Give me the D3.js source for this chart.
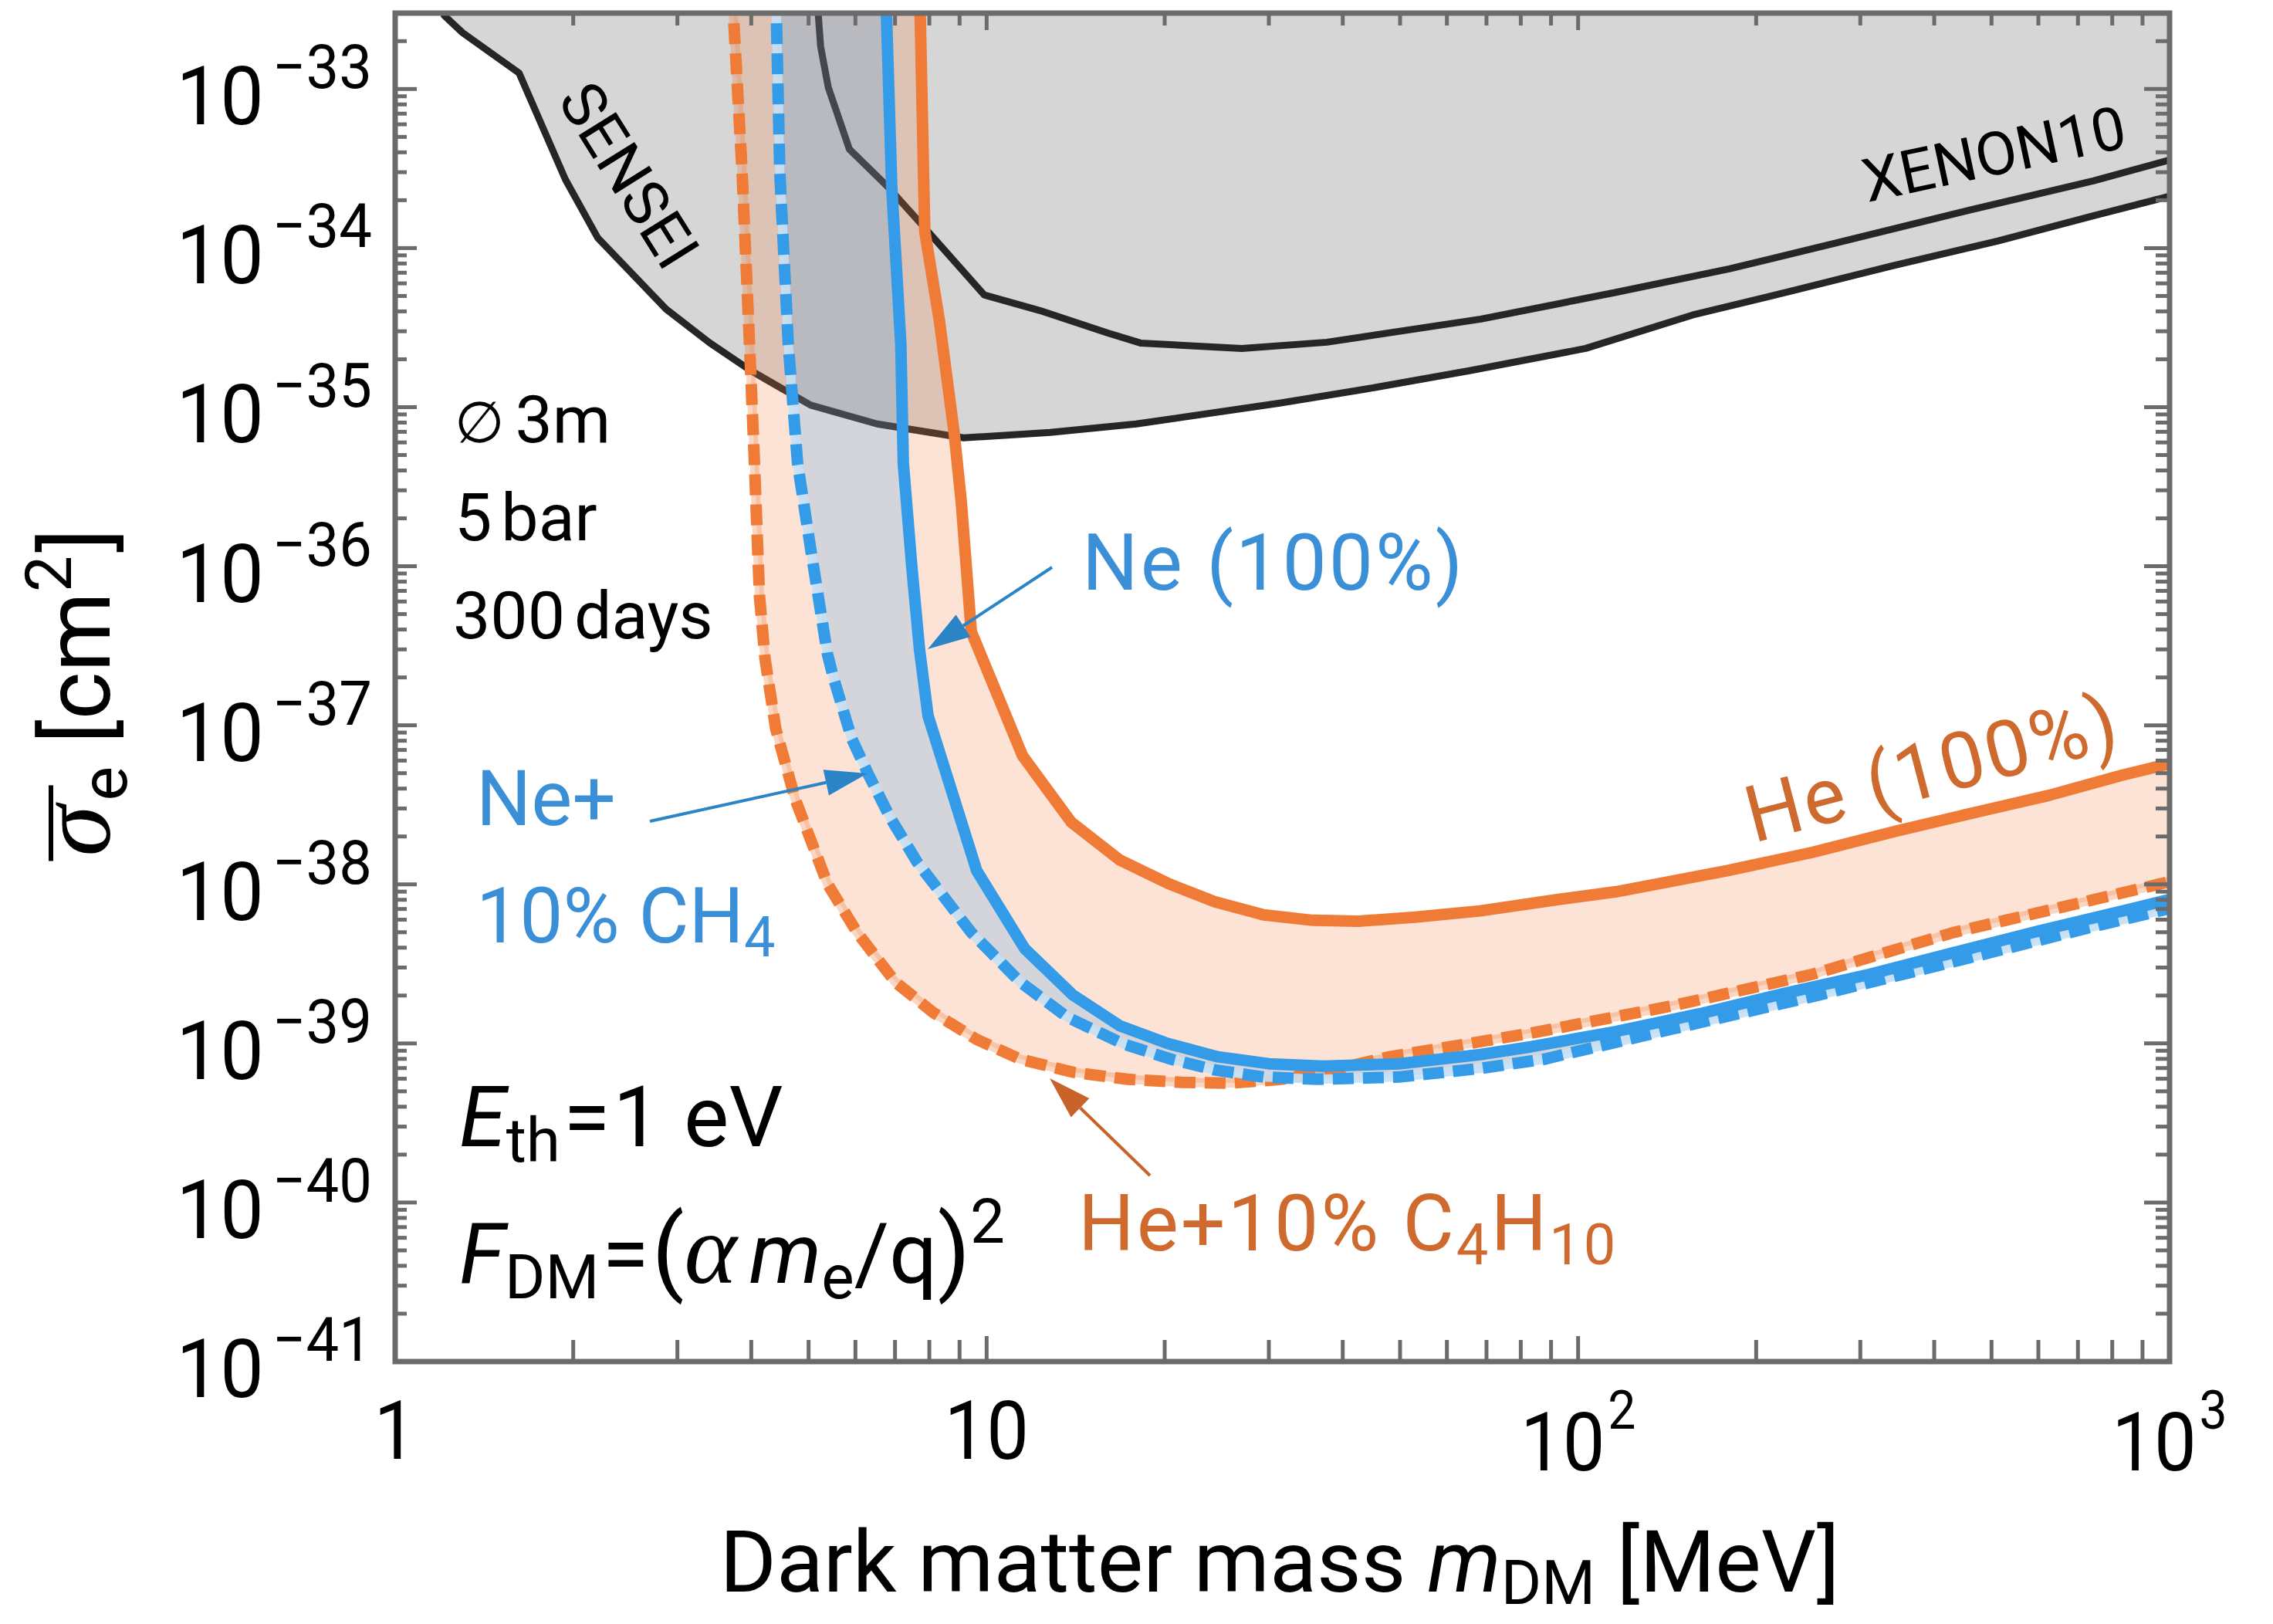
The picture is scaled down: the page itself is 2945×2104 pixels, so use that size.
<!DOCTYPE html>
<html>
<head>
<meta charset="utf-8">
<script src="https://cdn.jsdelivr.net/npm/d3@7"></script>
<style>
html, body { margin: 0; padding: 0; background: #fff; }
svg { display: block; font-family: Roboto, "Open Sans", sans-serif; }
</style>
</head>
<body>
<svg id="chart" width="2945" height="2104"></svg>
<script>
// [mass MeV, sigma_e cm^2]
const senseiLimit = [
	[1.2, 4e-33], [1.21, 2.9e-33], [1.3, 2.26e-33], [1.62, 1.26e-33], [1.94, 2.7e-34], [2.2, 1.16e-34],
	[2.87, 4.14e-35], [3.4, 2.54e-35], [3.99, 1.7e-35], [4.52, 1.3e-35], [5.04, 1.03e-35], [6.53, 7.84e-36],
	[9.14, 6.41e-36], [12.8, 6.93e-36], [17.9, 7.84e-36], [31.3, 1.06e-35], [43.8, 1.3e-35], [65.8, 1.7e-35],
	[103, 2.34e-35], [156, 3.79e-35], [234, 5.47e-35], [340, 7.74e-35], [513, 1.11e-34], [745, 1.6e-34], [1000, 2.12e-34],
];
const xenon10Limit = [
	[5.17, 4e-33], [5.19, 3e-33], [5.24, 1.85e-33], [5.4, 1.02e-33], [5.86, 4.19e-34], [6.79, 2.45e-34],
	[7.86, 1.34e-34], [9.91, 5.07e-35], [12.3, 4.05e-35], [16, 2.93e-35], [18.2, 2.53e-35], [27, 2.34e-35],
	[37.6, 2.56e-35], [68.5, 3.58e-35], [115, 5.24e-35], [180, 7.4e-35], [282, 1.11e-34], [458, 1.73e-34],
	[745, 2.65e-34], [1000, 3.58e-34],
];
const heliumPure = [
	[7.7, 4e-33], [7.72, 3e-33], [7.86, 1.27e-34], [8.32, 3.5e-35], [8.81, 6.93e-36], [9.06, 2.54e-36],
	[9.42, 3.88e-37], [11.5, 6.43e-38], [13.9, 2.46e-38], [16.8, 1.42e-38], [20.3, 1.01e-38], [24.3, 7.78e-39],
	[29.4, 6.43e-39], [35.6, 5.94e-39], [42.5, 5.87e-39], [53, 6.22e-39], [68.3, 6.81e-39], [92.7, 8.04e-39],
	[116, 8.99e-39], [179, 1.22e-38], [249, 1.59e-38], [346, 2.17e-38], [482, 2.9e-38], [626, 3.63e-38],
	[832, 4.86e-38], [1000, 5.74e-38],
];
const heliumMix = [
	[3.71, 4e-33], [3.73, 3e-33], [3.86, 2.99e-34], [3.99, 1.7e-35], [4.05, 4.43e-36], [4.13, 6.49e-37],
	[4.22, 2.62e-37], [4.4, 9.51e-38], [4.75, 3.4e-38], [5.38, 1.01e-38], [6.04, 4.98e-39], [7.01, 2.43e-39],
	[8.13, 1.56e-39], [9.62, 1.06e-39], [11.4, 7.96e-40], [14, 6.59e-40], [17.3, 5.95e-40], [21.4, 5.69e-40],
	[25.9, 5.63e-40], [31.5, 5.95e-40], [38.9, 6.89e-40], [48, 8.24e-40], [83.2, 1.16e-39], [144, 1.72e-39],
	[249, 2.72e-39], [431, 4.98e-39], [747, 8.04e-39], [1000, 1.04e-38],
];
const neonPure = [
	[6.75, 4e-33], [6.77, 3e-33], [6.91, 2.45e-34], [7.16, 2.48e-35], [7.23, 4.43e-36], [7.47, 1.01e-36],
	[7.7, 3e-37], [7.96, 1.15e-37], [9.62, 1.22e-38], [11.6, 3.94e-39], [14, 2.01e-39], [16.8, 1.29e-39],
	[20.3, 9.96e-40], [24.6, 8.24e-40], [30, 7.45e-40], [37.1, 7.2e-40], [49.8, 7.45e-40], [68.3, 8.51e-40],
	[83.2, 9.52e-40], [116, 1.19e-39], [161, 1.54e-39], [223, 2.06e-39], [311, 2.72e-39], [431, 3.72e-39],
	[600, 5.09e-39], [832, 6.8e-39], [1000, 8.04e-39],
];
const neonMix = [
	[4.39, 4e-33], [4.41, 3e-33], [4.47, 2.99e-34], [4.62, 2.48e-35], [4.79, 4.43e-36], [5.05, 1.23e-36],
	[5.38, 2.81e-37], [5.5, 2.03e-37], [5.91, 8.3e-38], [6.3, 4.97e-38], [6.87, 2.63e-38], [7.63, 1.38e-38],
	[9.42, 4.98e-39], [11.4, 2.43e-39], [13.7, 1.46e-39], [17, 9.96e-40], [20.5, 7.96e-40], [24.3, 6.81e-40],
	[29.4, 6.15e-40], [36.3, 5.95e-40], [49.8, 6.15e-40], [68.3, 6.96e-40], [87.6, 7.96e-40], [144, 1.23e-39],
	[249, 1.97e-39], [431, 3.26e-39], [747, 5.45e-39], [1000, 7.05e-39],
];

const xMajorTicks = [1, 10, 100, 1000];
const xTickLabels = [["1", ""], ["10", ""], ["10", "2"], ["10", "3"]];
const yExponents = [-41, -40, -39, -38, -37, -36, -35, -34, -33];

const plot = { left: 512, right: 2811, top: 17, bottom: 1764 };
const colors = {
	frame: "#6b6b6b",
	exclusion: "#d6d6d6",
	limitLine: "#262626",
	orange: "#ef7b36",
	orangeText: "#cf6a2e",
	orangeArrow: "#c8642a",
	blue: "#339be8",
	blueText: "#3a8fd6",
	blueArrow: "#2b84c6",
};

const svg = d3.select("#chart");
const x = d3.scaleLog().domain([1, 1000]).range([plot.left, plot.right]);
const y = d3.scaleLog().domain([1e-41, 3e-33]).range([plot.bottom, plot.top]);
const line = d3.line().x((d) => x(d[0])).y((d) => y(d[1]));
const areaAbove = d3.area().x((d) => x(d[0])).y0(plot.top - 60).y1((d) => y(d[1]));

function bandPath(lower, upper) {
	return line(lower.concat(upper.slice().reverse())) + "Z";
}

const defs = svg.append("defs");
defs.append("clipPath").attr("id", "plotClip")
	.append("rect").attr("x", plot.left).attr("y", plot.top)
	.attr("width", plot.right - plot.left).attr("height", plot.bottom - plot.top);
const mask = defs.append("mask").attr("id", "noNeon").attr("maskUnits", "userSpaceOnUse")
	.attr("x", 0).attr("y", 0).attr("width", 2945).attr("height", 2104);
mask.append("rect").attr("width", 2945).attr("height", 2104).attr("fill", "#fff");
mask.append("path").attr("d", bandPath(neonMix, neonPure)).attr("fill", "#000");

const g = svg.append("g").attr("clip-path", "url(#plotClip)");

// excluded regions
for (const limit of [senseiLimit, xenon10Limit]) {
	g.append("path").attr("d", areaAbove(limit)).attr("fill", colors.exclusion);
}
for (const limit of [senseiLimit, xenon10Limit]) {
	g.append("path").attr("d", line(limit)).attr("fill", "none")
		.attr("stroke", colors.limitLine).attr("stroke-width", 9).attr("stroke-linejoin", "round");
}

// projected bands
g.append("path").attr("d", bandPath(heliumMix, heliumPure))
	.attr("fill", "rgb(241,127,68)").attr("fill-opacity", 0.22).attr("mask", "url(#noNeon)");
g.append("path").attr("d", bandPath(neonMix, neonPure))
	.attr("fill", "rgb(126,132,150)").attr("fill-opacity", 0.34);

function dashedCurve(data, color, underColor) {
	g.append("path").attr("d", line(data)).attr("fill", "none")
		.attr("stroke", underColor).attr("stroke-width", 12).attr("stroke-linejoin", "round");
	g.append("path").attr("d", line(data)).attr("fill", "none")
		.attr("stroke", color).attr("stroke-width", 15).attr("stroke-dasharray", "27 12");
}
function solidCurve(data, color) {
	g.append("path").attr("d", line(data)).attr("fill", "none")
		.attr("stroke", color).attr("stroke-width", 15).attr("stroke-linejoin", "round");
}
dashedCurve(heliumMix, colors.orange, "rgba(239,123,54,0.3)");
dashedCurve(neonMix, colors.blue, "rgba(196,224,246,0.9)");
solidCurve(heliumPure, colors.orange);
solidCurve(neonPure, colors.blue);

// frame and ticks
const ticks = svg.append("g").attr("stroke", colors.frame).attr("stroke-width", 5);
const xMinor = [];
for (const d of [1, 10, 100]) for (let k = 2; k <= 9; k++) xMinor.push(d * k);
const yMinor = [2e-33];
for (const e of yExponents.slice(0, -1)) for (let k = 2; k <= 9; k++) yMinor.push(k * Math.pow(10, e));

function xTick(v, lenBottom, lenTop) {
	ticks.append("line").attr("x1", x(v)).attr("x2", x(v)).attr("y1", plot.bottom).attr("y2", plot.bottom - lenBottom);
	ticks.append("line").attr("x1", x(v)).attr("x2", x(v)).attr("y1", plot.top).attr("y2", plot.top + lenTop);
}
function yTick(v, lenLeft, lenRight) {
	ticks.append("line").attr("y1", y(v)).attr("y2", y(v)).attr("x1", plot.left).attr("x2", plot.left + lenLeft);
	ticks.append("line").attr("y1", y(v)).attr("y2", y(v)).attr("x1", plot.right).attr("x2", plot.right - lenRight);
}
xMajorTicks.forEach((v) => xTick(v, 33, 22));
xMinor.forEach((v) => xTick(v, 28, 16));
yExponents.forEach((e) => yTick(Math.pow(10, e), 28, 33));
yMinor.forEach((v) => yTick(v, 15, 18));

svg.append("rect").attr("x", plot.left).attr("y", plot.top)
	.attr("width", plot.right - plot.left).attr("height", plot.bottom - plot.top)
	.attr("fill", "none").attr("stroke", colors.frame).attr("stroke-width", 7);

// tick labels
yExponents.forEach((e) => {
	const py = y(Math.pow(10, e));
	const t = svg.append("text").attr("transform", `translate(482,${py + 46}) scale(0.95,1)`)
		.attr("text-anchor", "end").attr("font-size", 106);
	t.append("tspan").text("10");
	t.append("tspan").attr("font-size", 80).attr("dx", 12).attr("dy", -47).text("\u2212" + Math.abs(e));
});
xMajorTicks.forEach((v, i) => {
	const [base, sup] = xTickLabels[i];
	const t = svg.append("text").attr("transform", `translate(${x(v)},${sup ? 1905 : 1890}) scale(0.92,1)`)
		.attr("text-anchor", "middle").attr("font-size", 106);
	t.append("tspan").text(base);
	if (sup) t.append("tspan").attr("font-size", 70).attr("dx", 4).attr("dy", -54).text(sup);
});

// axis titles
const xt = svg.append("text").attr("x", 1658).attr("y", 2062).attr("text-anchor", "middle").attr("font-size", 112);
xt.append("tspan").text("Dark matter mass ");
xt.append("tspan").attr("font-style", "italic").text("m");
xt.append("tspan").attr("font-size", 80).attr("dy", 16).text("DM");
xt.append("tspan").attr("dy", -16).text(" [MeV]");

const yg = svg.append("g").attr("transform", "translate(142,897) rotate(-90)");
const yt = yg.append("text").attr("text-anchor", "middle").attr("font-size", 118);
yt.append("tspan").attr("font-family", "'Liberation Serif', serif").attr("font-style", "italic").attr("font-size", 134).text("\u03c3");
yt.append("tspan").attr("font-size", 84).attr("dx", 6).attr("dy", 22).text("e");
yt.append("tspan").attr("dy", -22).text(" [cm");
yt.append("tspan").attr("font-size", 84).attr("dy", -50).text("2");
yt.append("tspan").attr("dx", 4).attr("dy", 50).text("]");
const sigmaBox = yt.node().getExtentOfChar(0);
yg.append("line").attr("x1", sigmaBox.x - 6).attr("x2", sigmaBox.x + sigmaBox.width + 26)
	.attr("y1", -76).attr("y2", -76).attr("stroke", "#000").attr("stroke-width", 6);

// labels inside the plot
function label(px, py, size, fill, parts, transform) {
	const t = svg.append("text").attr("font-size", size).attr("fill", fill);
	if (transform) t.attr("transform", transform);
	else t.attr("x", px).attr("y", py);
	for (const p of parts) {
		const s = t.append("tspan").text(p.t);
		if (p.size) s.attr("font-size", p.size);
		if (p.dy) s.attr("dy", p.dy);
		if (p.dx) s.attr("dx", p.dx);
		if (p.italic) s.attr("font-style", "italic");
		if (p.family) s.attr("font-family", p.family);
	}
	return t;
}

label(589, 573, 86, "#000", [{ t: "\u2205", family: "'DejaVu Sans'", size: 74 }, { t: "3m", dx: 14 }]);
label(589, 700, 86, "#000", [{ t: "5" }, { t: "bar", dx: 12 }]);
label(587, 827, 86, "#000", [{ t: "300" }, { t: "days", dx: 12 }]);

label(595, 1485, 110, "#000", [
	{ t: "E", italic: true },
	{ t: "th", size: 80, dy: 20 },
	{ t: "=", dx: 4, dy: -20 },
	{ t: "1", dx: 4 },
	{ t: "eV", dx: 30 },
]);
label(595, 1662, 110, "#000", [
	{ t: "F", italic: true },
	{ t: "DM", size: 80, dy: 20 },
	{ t: "=", dx: 4, dy: -20 },
	{ t: "(", dx: 4, size: 122 },
	{ t: "\u03b1", italic: true, family: "'Liberation Serif', serif", size: 130 },
	{ t: "m", italic: true, dx: 16 },
	{ t: "e", size: 80, dy: 20 },
	{ t: "/q", dy: -20 },
	{ t: ")", size: 122 },
	{ t: "2", size: 80, dy: -52 },
]);

label(0, 0, 80, "#000", [{ t: "SENSEI" }], "translate(815,227) rotate(58)")
	.attr("text-anchor", "middle").attr("dy", "0.35em");
label(0, 0, 78, "#000", [{ t: "XENON10" }], "translate(2420,262) rotate(-12)");

label(1402, 764, 102, colors.blueText, [{ t: "Ne (100%)" }]).attr("letter-spacing", 3);
label(617, 1069, 100, colors.blueText, [{ t: "Ne+" }]);
label(617, 1221, 100, colors.blueText, [{ t: "10% CH" }, { t: "4", size: 72, dy: 18 }]);
label(0, 0, 102, colors.orangeText, [{ t: "He (100%)" }], "translate(2272,1092) rotate(-14.6)").attr("letter-spacing", 3);
label(1397, 1620, 102, colors.orangeText, [
	{ t: "He+10% C" }, { t: "4", size: 74, dy: 18 }, { t: "H", dy: -18 }, { t: "10", size: 74, dy: 18 },
]).attr("letter-spacing", 3);

function arrow(from, to, color) {
	const dx = to[0] - from[0];
	const dy = to[1] - from[1];
	const len = Math.hypot(dx, dy);
	const ux = dx / len;
	const uy = dy / len;
	const headLen = 55;
	const headW = 17;
	const bx = to[0] - ux * headLen;
	const by = to[1] - uy * headLen;
	svg.append("line").attr("x1", from[0]).attr("y1", from[1]).attr("x2", bx).attr("y2", by)
		.attr("stroke", color).attr("stroke-width", 4);
	svg.append("path")
		.attr("d", `M${to[0]},${to[1]}L${bx - uy * headW},${by + ux * headW}L${bx + uy * headW},${by - ux * headW}Z`)
		.attr("fill", color);
}
arrow([1363, 735], [1202, 841], colors.blueArrow);
arrow([842, 1064], [1124, 1002], colors.blueArrow);
arrow([1490, 1523], [1360, 1397], colors.orangeArrow);
</script>
</body>
</html>
